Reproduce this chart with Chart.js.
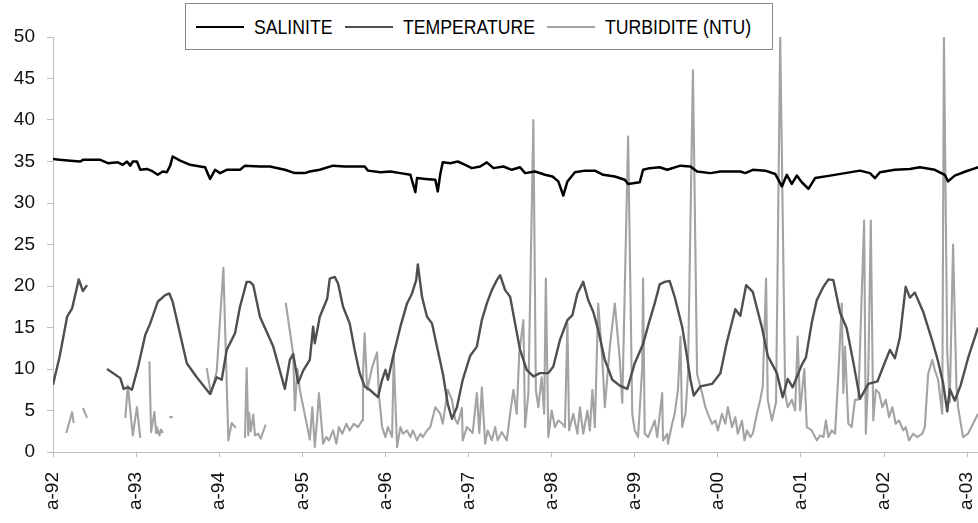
<!DOCTYPE html>
<html>
<head>
<meta charset="utf-8">
<title>Salinite, temperature, turbidite</title>
<script src="https://cdn.jsdelivr.net/npm/chart.js@4.4.0/dist/chart.umd.min.js"></script>
<style>
  html, body { margin: 0; padding: 0; background: #fff; }
  #wrap { position: relative; width: 978px; height: 523px; }
  #legend {
    position: absolute; left: 185px; top: 3px; width: 588px; height: 47px;
    box-sizing: border-box; border: 1px solid #8a8a8a; background: #fff;
    display: flex; align-items: center; padding-left: 10px;
    font-family: "Liberation Sans", Arial, sans-serif; font-size: 21px; color: #000;
  }
  .item { display: flex; align-items: center; }
  .swatch { display: inline-block; width: 48px; height: 2px; margin-right: 10px; }
  .label { display: inline-block; white-space: nowrap; transform: scaleX(0.84); transform-origin: 0 50%; }
</style>
</head>
<body>
<div id="wrap">
  <canvas id="chart" width="978" height="523"></canvas>
  <div id="legend"></div>
</div>
<script>
// dates are decimal years, ticks sit on April ("a-") of each year
const tickYears = [1992.25, 1993.25, 1994.25, 1995.25, 1996.25, 1997.25, 1998.25, 1999.25, 2000.25, 2001.25, 2002.25, 2003.25];
const tickLabels = ['a-92', 'a-93', 'a-94', 'a-95', 'a-96', 'a-97', 'a-98', 'a-99', 'a-00', 'a-01', 'a-02', 'a-03'];

const seriesNames = ['SALINITE', 'TEMPERATURE', 'TURBIDITE (NTU)'];
const seriesColors = ['#000000', '#4f4f4f', '#a3a3a3'];

const salDates = [
  1992.25, 1992.33, 1992.46, 1992.58, 1992.61, 1992.82, 1992.91, 1993.03, 1993.09, 1993.14,
  1993.18, 1993.21, 1993.26, 1993.30, 1993.38, 1993.45, 1993.51, 1993.57, 1993.62, 1993.66,
  1993.69, 1993.78, 1993.90, 1994.02, 1994.08, 1994.14, 1994.20, 1994.26, 1994.34, 1994.50,
  1994.56, 1994.74, 1994.86, 1995.04, 1995.16, 1995.28, 1995.34, 1995.46, 1995.62, 1995.76,
  1996.00, 1996.04, 1996.19, 1996.31, 1996.43, 1996.55, 1996.61, 1996.63, 1996.73, 1996.85,
  1996.88, 1996.91, 1996.94, 1997.03, 1997.12, 1997.21, 1997.29, 1997.39, 1997.47, 1997.55,
  1997.67, 1997.77, 1997.87, 1997.93, 1998.05, 1998.17, 1998.26, 1998.33, 1998.39, 1998.44,
  1998.53, 1998.65, 1998.77, 1998.87, 1999.01, 1999.13, 1999.17, 1999.31, 1999.35, 1999.43,
  1999.55, 1999.64, 1999.80, 1999.92, 2000.00, 2000.16, 2000.28, 2000.52, 2000.58, 2000.67,
  2000.82, 2000.94, 2001.02, 2001.08, 2001.14, 2001.20, 2001.26, 2001.34, 2001.42, 2001.60,
  2001.78, 2001.96, 2002.08, 2002.14, 2002.20, 2002.38, 2002.56, 2002.68, 2002.86, 2002.98,
  2003.02, 2003.10, 2003.23, 2003.35, 2003.38
];
const salValues = [
  35.3, 35.2, 35.1, 35.0, 35.2, 35.2, 34.8, 34.9, 34.6, 35.0,
  34.5, 35.0, 35.0, 34.0, 34.1, 33.8, 33.4, 33.8, 33.7, 34.5,
  35.6, 35.1, 34.6, 34.4, 34.3, 32.9, 34.0, 33.6, 34.0, 34.0,
  34.5, 34.4, 34.4, 34.0, 33.6, 33.6, 33.8, 34.0, 34.5, 34.4,
  34.4, 33.9, 33.7, 33.8, 33.6, 33.4, 31.3, 33.0, 32.9, 32.8,
  31.4, 33.5, 34.9, 34.8, 35.0, 34.6, 34.2, 34.4, 34.9, 34.2,
  34.4, 34.0, 34.3, 33.6, 33.8, 33.4, 33.2, 32.6, 30.9, 32.6,
  33.7, 33.9, 33.9, 33.4, 33.2, 32.8, 32.3, 32.5, 34.0, 34.2,
  34.3, 34.0, 34.5, 34.4, 33.8, 33.6, 33.8, 33.8, 33.6, 34.0,
  33.9, 33.5, 32.0, 33.4, 32.3, 33.3, 32.5, 31.7, 33.0, 33.3,
  33.6, 33.9, 33.6, 33.0, 33.7, 34.0, 34.1, 34.3, 34.0, 33.4,
  32.6, 33.3, 33.8, 34.2, 34.3
];

const tempDates = [
  1992.25, 1992.33, 1992.42, 1992.48, 1992.56, 1992.61, 1992.66, 1992.78, 1992.90, 1993.06,
  1993.10, 1993.15, 1993.20, 1993.27, 1993.36, 1993.42, 1993.51, 1993.60, 1993.65, 1993.69,
  1993.86, 1993.98, 1994.14, 1994.22, 1994.28, 1994.34, 1994.44, 1994.50, 1994.58, 1994.62,
  1994.66, 1994.74, 1994.90, 1995.04, 1995.10, 1995.14, 1995.20, 1995.26, 1995.34, 1995.38,
  1995.40, 1995.46, 1995.55, 1995.58, 1995.64, 1995.68, 1995.74, 1995.82, 1995.88, 1995.94,
  1996.00, 1996.06, 1996.16, 1996.21, 1996.25, 1996.28, 1996.34, 1996.43, 1996.51, 1996.57,
  1996.62, 1996.64, 1996.69, 1996.75, 1996.81, 1996.87, 1996.94, 1997.00, 1997.05, 1997.11,
  1997.18, 1997.27, 1997.35, 1997.41, 1997.47, 1997.53, 1997.59, 1997.63, 1997.69, 1997.75,
  1997.81, 1997.87, 1997.95, 1998.03, 1998.11, 1998.21, 1998.27, 1998.35, 1998.44, 1998.50,
  1998.56, 1998.63, 1998.69, 1998.75, 1998.81, 1998.89, 1998.98, 1999.07, 1999.16, 1999.25,
  1999.35, 1999.43, 1999.49, 1999.55, 1999.61, 1999.67, 1999.73, 1999.82, 1999.88, 1999.92,
  1999.96, 2000.04, 2000.18, 2000.28, 2000.36, 2000.46, 2000.52, 2000.59, 2000.67, 2000.78,
  2000.85, 2000.96, 2001.03, 2001.09, 2001.15, 2001.26, 2001.31, 2001.38, 2001.44, 2001.52,
  2001.58, 2001.64, 2001.72, 2001.80, 2001.88, 2001.96, 2002.06, 2002.17, 2002.24, 2002.32,
  2002.38, 2002.44, 2002.51, 2002.56, 2002.62, 2002.72, 2002.83, 2002.90, 2002.96, 2003.01,
  2003.04, 2003.10, 2003.17, 2003.26, 2003.38
];
const tempValues = [
  8.1, 11.5, 16.3, 17.3, 20.8, 19.4, 20.1, null, 10.0, 8.9,
  7.6, 7.8, 7.5, 10.1, 14.1, 15.5, 18.1, 18.9, 19.1, 18.1,
  10.7, 9.0, 7.0, 9.0, 8.7, 12.3, 14.3, 17.5, 20.5, 20.5,
  20.1, 16.3, 12.7, 7.6, 11.1, 11.8, 8.3, 9.8, 11.1, 15.1,
  13.1, 16.3, 18.5, 20.9, 21.1, 20.3, 17.5, 15.5, 12.3, 9.5,
  7.9, 7.5, 6.6, 8.7, 9.9, 8.7, 11.4, 15.1, 17.9, 19.1,
  20.7, 22.6, 18.7, 16.3, 15.5, 12.7, 9.5, 5.8, 4.0, 5.4,
  8.7, 11.6, 12.7, 15.9, 17.9, 19.5, 20.7, 21.3, 19.5, 18.7,
  15.5, 12.3, 9.9, 9.1, 9.5, 9.5, 10.3, 13.5, 15.9, 16.5,
  19.1, 20.5, 18.3, 16.9, 14.7, 11.1, 8.7, 8.0, 7.6, 10.7,
  13.0, 15.9, 17.9, 20.2, 20.5, 20.6, 18.7, 15.1, 11.4, 8.7,
  6.8, 7.9, 8.2, 9.5, 13.3, 17.2, 16.4, 20.1, 19.3, 15.0,
  11.6, 9.5, 6.6, 8.8, 7.8, 10.5, 11.4, 15.6, 18.3, 19.9,
  20.8, 20.7, 16.8, 14.9, 10.8, 6.4, 8.2, 8.5, 10.3, 12.3,
  11.3, 13.8, 19.9, 18.6, 19.2, 16.9, 13.4, 10.9, 8.3, 4.9,
  7.6, 6.2, 8.0, 11.3, 15.0
];

// one line per calendar year; null leaves a gap in the record
const turbDates = [
  1992.41, 1992.48, 1992.50, 1992.55, 1992.61, 1992.66, 1992.80,
  1993.12, 1993.15, 1993.21, 1993.26, 1993.30, 1993.35, 1993.41, 1993.43, 1993.47, 1993.49, 1993.50, 1993.53, 1993.55, 1993.57, 1993.61, 1993.65, 1993.69, 1993.90,
  1994.10, 1994.15, 1994.22, 1994.30, 1994.36, 1994.40, 1994.45, 1994.50, 1994.56, 1994.58, 1994.60, 1994.61, 1994.63, 1994.66, 1994.68, 1994.72, 1994.75, 1994.78, 1994.81, 1994.93,
  1995.05, 1995.14, 1995.16, 1995.19, 1995.22, 1995.28, 1995.34, 1995.37, 1995.40, 1995.43, 1995.45, 1995.50, 1995.54, 1995.57, 1995.62, 1995.66, 1995.69, 1995.73, 1995.78, 1995.82, 1995.87, 1995.92, 1995.97, 1995.98,
  1996.00, 1996.03, 1996.09, 1996.15, 1996.17, 1996.21, 1996.25, 1996.28, 1996.33, 1996.35, 1996.39, 1996.43, 1996.46, 1996.51, 1996.55, 1996.58, 1996.63, 1996.67, 1996.70, 1996.75, 1996.79, 1996.85, 1996.91, 1996.94,
  1997.00, 1997.05, 1997.09, 1997.12, 1997.17, 1997.18, 1997.23, 1997.30, 1997.35, 1997.38, 1997.41, 1997.45, 1997.48, 1997.53, 1997.57, 1997.60, 1997.65, 1997.71, 1997.75, 1997.79, 1997.83, 1997.86, 1997.91, 1997.93, 1997.97,
  1998.03, 1998.06, 1998.09, 1998.13, 1998.16, 1998.18, 1998.21, 1998.25, 1998.29, 1998.33, 1998.38, 1998.41, 1998.44, 1998.46, 1998.51, 1998.56, 1998.59, 1998.63, 1998.68, 1998.71, 1998.74, 1998.77, 1998.81, 1998.86, 1998.89, 1998.95,
  1999.01, 1999.07, 1999.10, 1999.17, 1999.22, 1999.25, 1999.29, 1999.34, 1999.35, 1999.37, 1999.41, 1999.46, 1999.49, 1999.52, 1999.58, 1999.59, 1999.64, 1999.65, 1999.70, 1999.73, 1999.77, 1999.80, 1999.82, 1999.86, 1999.89, 1999.95,
  2000.00, 2000.06, 2000.10, 2000.13, 2000.18, 2000.22, 2000.25, 2000.30, 2000.34, 2000.37, 2000.42, 2000.46, 2000.49, 2000.54, 2000.57, 2000.60, 2000.64, 2000.67, 2000.72, 2000.76, 2000.79, 2000.83, 2000.85, 2000.90, 2000.95,
  2001.00, 2001.06, 2001.09, 2001.14, 2001.18, 2001.21, 2001.24, 2001.29, 2001.32, 2001.38, 2001.44, 2001.48, 2001.52, 2001.55, 2001.58, 2001.62, 2001.66, 2001.70, 2001.74, 2001.76, 2001.78, 2001.82, 2001.86, 2001.90, 2001.94,
  2002.01, 2002.03, 2002.06, 2002.09, 2002.12, 2002.15, 2002.19, 2002.23, 2002.27, 2002.31, 2002.35, 2002.39, 2002.43, 2002.48, 2002.51, 2002.55, 2002.60, 2002.65, 2002.71, 2002.74, 2002.78, 2002.83, 2002.86, 2002.90, 2002.95, 2002.97,
  2003.01, 2003.04, 2003.08, 2003.12, 2003.14, 2003.20, 2003.26, 2003.32, 2003.38
];
const turbValues = [
  2.3, 4.8, 3.5, null, 5.3, 4.1, null,
  4.1, 8.0, 2.0, 5.4, 1.7, null, 10.9, 2.4, 4.8, 2.3, 3.0, 2.0, 2.7, 2.3, null, 4.2, 4.2, null,
  10.1, 7.0, 9.7, 22.2, 1.4, 3.5, 2.9, null, 1.7, 10.1, 2.0, 4.7, 2.5, 4.5, 2.0, 2.2, 1.6, 2.5, 3.3, null,
  18.0, 11.8, 5.0, 10.0, 7.5, 4.5, 1.5, 5.4, 0.6, 4.2, 7.1, 1.0, 1.8, 1.4, 2.6, 1.0, 3.0, 2.2, 3.4, 2.6, 3.4, 3.0, 3.8, 9.4,
  14.3, 7.5, 10.2, 12.0, 7.1, 3.0, 1.8, 3.0, 1.8, 11.6, 0.6, 3.0, 2.2, 2.6, 1.8, 2.6, 1.4, 2.2, 1.8, 2.6, 3.0, 5.4, 4.6, 3.4,
  7.5, 6.3, 3.9, 3.4, 5.3, 1.4, 3.0, 2.3, 7.1, 2.3, 7.8, 1.0, 2.6, 1.4, 3.0, 1.4, 2.4, 1.4, 4.6, 7.5, 4.6, 11.9, 15.9, 3.0, 7.1,
  40.0, 7.5, 5.4, 9.0, 4.6, 20.9, 1.8, 5.0, 3.0, 3.8, 3.4, 3.0, 15.5, 2.6, 4.6, 2.2, 5.4, 2.2, 5.0, 2.6, 7.5, 3.0, 17.9, 11.1, 5.4, 12.7,
  17.9, 11.1, 5.9, 38.0, 4.6, 2.6, 1.8, 10.2, 20.9, 2.2, 1.8, 3.0, 3.8, 1.8, 7.1, 1.4, 2.2, 1.0, 3.4, 4.6, 7.5, 13.9, 3.0, 4.6, 9.4, 46.0,
  9.4, 7.1, 5.4, 4.6, 3.4, 3.8, 2.6, 4.6, 3.4, 5.4, 3.0, 4.2, 2.2, 3.8, 1.4, 2.6, 1.8, 2.2, 4.6, 6.3, 7.9, 20.9, 6.3, 3.8, 6.0,
  50.0, 7.1, 5.4, 6.3, 5.0, 13.9, 5.0, 10.0, 3.0, 2.6, 1.4, 2.0, 1.8, 3.8, 1.8, 2.6, 2.2, 9.4, 17.9, 7.1, 12.7, 3.4, 3.0, 6.3, 6.3,
  27.9, 2.2, 9.4, 27.9, 3.8, 7.5, 7.1, 5.4, 6.3, 4.2, 5.4, 3.4, 3.8, 2.6, 3.0, 1.4, 2.2, 1.8, 2.2, 3.0, 9.4, 11.1, 9.9, 8.7, 4.6, 50.0,
  12.0, 6.0, 25.0, 8.0, 5.4, 1.8, 2.2, 3.4, 4.6
];

function toPoints(dates, values) {
  return dates.map((d, i) => ({ x: d, y: values[i] }));
}

const seriesData = [
  toPoints(salDates, salValues),
  toPoints(tempDates, tempValues),
  toPoints(turbDates, turbValues)
];
const lineWidths = [2.5, 2.4, 2.1];

const tickFont = { family: '"Liberation Sans", Arial, sans-serif', size: 19 };
const axisGrey = '#bdbdbd';

new Chart(document.getElementById('chart'), {
  type: 'line',
  data: {
    datasets: seriesNames.map((name, i) => ({
      label: name,
      data: seriesData[i],
      borderColor: seriesColors[i],
      borderWidth: lineWidths[i],
      pointRadius: 0,
      tension: 0,
      spanGaps: false,
      borderJoinStyle: 'round'
    }))
  },
  options: {
    responsive: false,
    animation: false,
    layout: { padding: { top: 37, right: 0, bottom: 0, left: 0 } },
    plugins: {
      legend: { display: false },
      tooltip: { enabled: false }
    },
    scales: {
      x: {
        type: 'linear',
        min: 1992.25,
        max: 2003.38,
        afterBuildTicks: axis => { axis.ticks = tickYears.map(v => ({ value: v })); },
        afterFit: scale => { scale.height = 71; scale.paddingLeft = 0; scale.paddingRight = 0; },
        ticks: {
          autoSkip: false,
          minRotation: 90,
          maxRotation: 90,
          padding: 15,
          color: '#111',
          font: tickFont,
          callback: (value, index) => tickLabels[index]
        },
        grid: { drawOnChartArea: false, color: axisGrey, tickLength: 5 },
        border: { color: axisGrey, width: 1 }
      },
      y: {
        min: 0,
        max: 50,
        afterFit: scale => { scale.width = 53; },
        ticks: { stepSize: 5, padding: 12, color: '#111', font: tickFont },
        grid: { drawOnChartArea: false, color: axisGrey, tickLength: 6 },
        border: { color: axisGrey, width: 1 }
      }
    }
  }
});

// boxed legend laid over the top of the plot
const legend = document.getElementById('legend');
seriesNames.forEach((name, i) => {
  const item = document.createElement('div');
  item.className = 'item';
  const swatch = document.createElement('span');
  swatch.className = 'swatch';
  swatch.style.background = seriesColors[i];
  const text = document.createElement('span');
  text.className = 'label';
  text.textContent = name;
  item.append(swatch, text);
  legend.appendChild(item);
  text.style.marginRight = (12 - text.offsetWidth * 0.16) + 'px';
});
</script>
</body>
</html>
